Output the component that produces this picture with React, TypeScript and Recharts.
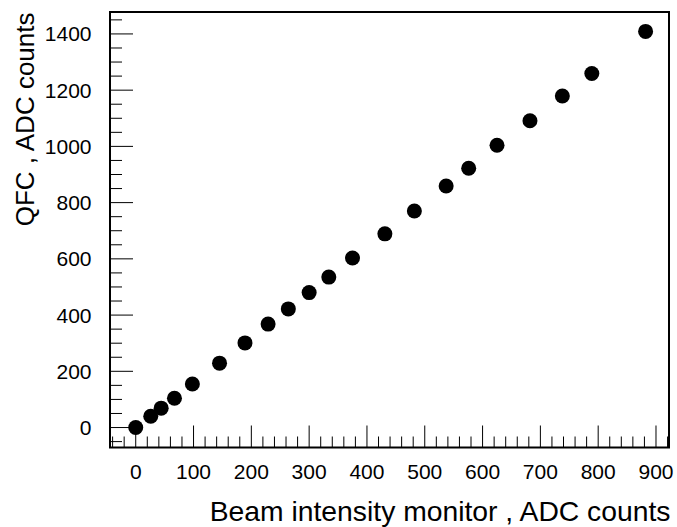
import React from 'react';
import { ScatterChart, Scatter, XAxis, YAxis, ReferenceArea } from 'recharts';

const beamMonitor = [0, 26, 44, 67, 98, 145, 189, 229, 264, 300, 334, 375, 431, 482, 537, 576, 625, 682, 738, 789, 882];
const qfcCounts = [0, 40, 69, 104, 155, 229, 301, 368, 422, 480, 535, 603, 689, 770, 859, 922, 1004, 1091, 1179, 1259, 1409];

const xTicks = [-40, -20, 0, 20, 40, 60, 80, 100, 120, 140, 160, 180, 200, 220, 240, 260, 280, 300, 320, 340, 360, 380, 400, 420, 440, 460, 480, 500, 520, 540, 560, 580, 600, 620, 640, 660, 680, 700, 720, 740, 760, 780, 800, 820, 840, 860, 880, 900, 920];
const yTicks = [-50, 0, 50, 100, 150, 200, 250, 300, 350, 400, 450, 500, 550, 600, 650, 700, 750, 800, 850, 900, 950, 1000, 1050, 1100, 1150, 1200, 1250, 1300, 1350, 1400, 1450];
const xMajorStep = 100;
const yMajorStep = 200;
const xDomain = [-44.5, 922.5];
const yDomain = [-71, 1478];

const xTitle = 'Beam intensity monitor , ADC counts';
const yTitle = 'QFC , ADC counts';

const data = beamMonitor.map((x, i) => ({ x, y: qfcCounts[i] }));

const FONT = '"Liberation Sans", Arial, Helvetica, sans-serif';

const XTick = (props: any) => {
  const { x, y, payload } = props;
  const v = payload.value;
  const major = v % xMajorStep === 0;
  return (
    <g>
      <line x1={x} x2={x} y1={y} y2={y - (major ? 22 : 11)} stroke="#000" strokeWidth={1} />
      {major && (
        <text x={x} y={y + 31.5} textAnchor="middle" fontSize={21} fontFamily={FONT} fill="#000">
          {v}
        </text>
      )}
    </g>
  );
};

const YTick = (props: any) => {
  const { x, y, payload } = props;
  const v = payload.value;
  const major = v % yMajorStep === 0;
  return (
    <g>
      <line x1={x} x2={x + (major ? 23 : 12)} y1={y} y2={y} stroke="#000" strokeWidth={1} />
      {major && (
        <text x={x - 18.5} y={y + 7.5} textAnchor="end" fontSize={21} fontFamily={FONT} fill="#000">
          {v}
        </text>
      )}
    </g>
  );
};

const Dot = (props: any) => {
  const { cx, cy } = props;
  return <circle cx={cx} cy={cy} r={7.5} fill="#000" />;
};

const XTitle = (p: any) => {
  const vb = p.viewBox || {};
  return (
    <text x={vb.x + vb.width + 1.5} y={vb.y + 73.2} textAnchor="end" fontSize={28.3} fontFamily={FONT} fill="#000">
      {xTitle}
    </text>
  );
};

const YTitle = (p: any) => {
  const vb = p.viewBox || {};
  const tx = 34;
  const ty = vb.y + 0.5;
  return (
    <text x={tx} y={ty} transform={`rotate(-90 ${tx} ${ty})`} textAnchor="end" fontSize={26} fontFamily={FONT} fill="#000">
      {yTitle}
    </text>
  );
};

export default function App() {
  return (
    <div style={{ position: 'absolute', left: 0, top: 0, width: 677, height: 527, background: '#fff' }}>
      <ScatterChart width={677} height={527} margin={{ top: 12, right: 8, bottom: 19.5, left: 50 }}>
        <XAxis
          type="number"
          dataKey="x"
          domain={xDomain}
          ticks={xTicks}
          interval={0}
          height={60}
          tickSize={0}
          tickMargin={0}
          tickLine={false}
          axisLine={false}
          tick={<XTick />}
          allowDataOverflow
          label={<XTitle />}
        />
        <YAxis
          type="number"
          dataKey="y"
          domain={yDomain}
          ticks={yTicks}
          interval={0}
          width={60}
          tickSize={0}
          tickMargin={0}
          tickLine={false}
          axisLine={false}
          tick={<YTick />}
          allowDataOverflow
          label={<YTitle />}
        />
        <ReferenceArea
          x1={xDomain[0]}
          x2={xDomain[1]}
          y1={yDomain[0]}
          y2={yDomain[1]}
          fill="none"
          fillOpacity={0}
          stroke="#000"
          strokeWidth={2}
          ifOverflow="visible"
        />
        <Scatter data={data} shape={<Dot />} isAnimationActive={false} />
      </ScatterChart>
    </div>
  );
}
